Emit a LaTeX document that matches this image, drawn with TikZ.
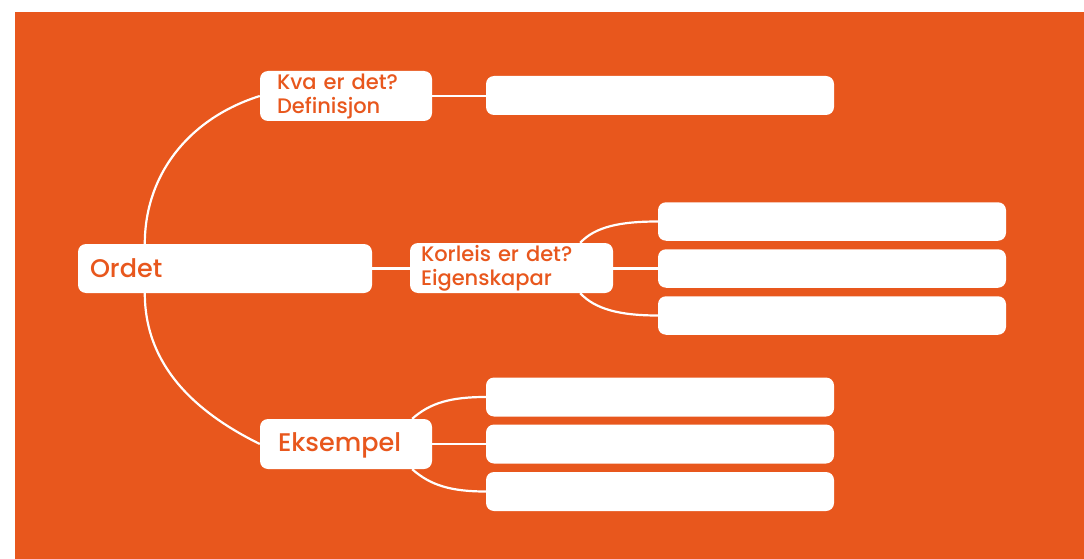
\documentclass[tikz,border=0pt]{standalone}
\usepackage{fontspec}
\setmainfont{Poppins}[BoldFont={Poppins Medium}]
\usetikzlibrary{calc}
\definecolor{bg}{RGB}{232,87,29}
\tikzset{
  box/.style={fill=white, draw=none, rounded corners=8pt, inner sep=0pt},
  lbl/.style={box, text=bg, align=left, inner xsep=#1, anchor=center},
  conn/.style={draw=white, line width=2.2pt},
  hfont/.style={font=\bfseries\fontsize{21}{24}\selectfont},
}
\begin{document}
\begin{tikzpicture}[x=1pt,y=-1pt]
\useasboundingbox (0,0) rectangle (1084,559);
\fill[white] (0,0) rectangle (1084,559);
\fill[bg] (15,12) rectangle (1084,559);

% main nodes
\node[lbl=12pt, minimum width=294pt, minimum height=49pt, text width=270pt, font=\bfseries\fontsize{25.5}{28}\selectfont] (ordet) at (225,268.5) {Ordet};
\node[lbl=17pt, minimum width=172pt, minimum height=50pt, text width=138pt, hfont] (kva) at (346,96) {Kva er det?\\Definisjon};
\node[lbl=11pt, minimum width=203pt, minimum height=50pt, text width=181pt, hfont] (korl) at (511.5,268) {Korleis er det?\\Eigenskapar};
\node[lbl=18pt, minimum width=172pt, minimum height=50pt, text width=136pt, font=\bfseries\fontsize{25.5}{28}\selectfont, text depth=3pt] (eks) at (346,444) {Eksempel};

% empty answer boxes
\node[box, minimum width=348pt, minimum height=39pt] (def) at (660,95.5) {};
\node[box, minimum width=348pt, minimum height=38.5pt] (e1) at (832,221.5) {};
\node[box, minimum width=348pt, minimum height=38.5pt] (e2) at (832,268.5) {};
\node[box, minimum width=348pt, minimum height=38.5pt] (e3) at (832,315.5) {};
\node[box, minimum width=348pt, minimum height=39pt] (x1) at (660,397) {};
\node[box, minimum width=348pt, minimum height=39pt] (x2) at (660,444) {};
\node[box, minimum width=348pt, minimum height=39pt] (x3) at (660,491.5) {};

% connectors
\draw[conn] ($(ordet.north west)+(67,0)$) .. controls ($(ordet.north west)+(67,-70)$) and ($(kva.west)+(-70,22)$) .. (kva.west);
\draw[conn] ($(ordet.south west)+(67,0)$) .. controls ($(ordet.south west)+(67,72)$) and ($(eks.west)+(-65,-32)$) .. (eks.west);
\draw[conn] (kva.east) -- (def.west |- kva.east);
\draw[conn] (ordet.east) -- (korl.west |- ordet.east);
\draw[conn] ($(korl.north east)+(-33,0)$) .. controls ($(korl.north east)+(-18,-16)$) and ($(e1.west)+(-38,0)$) .. (e1.west);
\draw[conn] (korl.east |- e2.west) -- (e2.west);
\draw[conn] ($(korl.south east)+(-33,0)$) .. controls ($(korl.south east)+(-18,16)$) and ($(e3.west)+(-38,0)$) .. (e3.west);
\draw[conn] ($(eks.north east)+(-20,0)$) .. controls ($(eks.north east)+(-2,-16)$) and ($(x1.west)+(-35,0)$) .. (x1.west);
\draw[conn] (eks.east) -- (x2.west);
\draw[conn] ($(eks.south east)+(-20,0)$) .. controls ($(eks.south east)+(-2,16)$) and ($(x3.west)+(-35,0)$) .. (x3.west);
\end{tikzpicture}
\end{document}
